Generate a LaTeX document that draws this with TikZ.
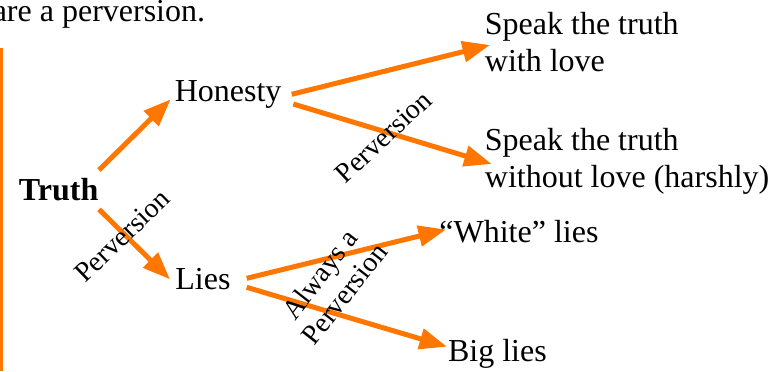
\documentclass[tikz,border=0pt]{standalone}
\usepackage{fontspec}
\setmainfont{Liberation Serif}
\usetikzlibrary{arrows.meta}
\definecolor{arrorange}{RGB}{255,118,0}
\tikzset{
  txt/.style={inner sep=0pt, anchor=base west, font=\fontsize{16}{18.5}\selectfont},
  lbl/.style={inner sep=0pt, font=\fontsize{14}{15.5}\selectfont},
  arr/.style={draw=arrorange, line width=2.5pt, -{Triangle[length=13.75pt,width=10.2pt]}}
}
\begin{document}
\begin{tikzpicture}[x=0.5pt,y=-0.5pt]
\useasboundingbox (0,0) rectangle (782,371);
\clip (0,0) rectangle (782,371);
% heading fragment
\node[txt, anchor=base east] (head) at (205.5,21.7) {are a perversion.};
% left rule
\draw[arrorange, line width=1.35pt] (1.3,48) -- (1.3,371);
% nodes
\node[txt, font=\fontsize{16}{18.5}\selectfont\bfseries] (truth) at (18.5,200.7) {Truth};
\node[txt] (honesty) at (174.4,101.7) {Honesty};
\node[txt] (lies) at (175,289.3) {Lies};
\node[txt] (love) at (484.5,34) {\begin{tabular}[t]{@{}l@{}}Speak the truth\\with love\end{tabular}};
\node[txt] (harsh) at (484.5,150.5) {\begin{tabular}[t]{@{}l@{}}Speak the truth\\without love (harshly)\end{tabular}};
\node[txt] (white) at (439,242.7) {``White'' lies};
\node[txt] (big) at (447.7,361.7) {Big lies};
% connectors
\draw[arr] ([shift={(80.5,-30.7)}]truth.base west) -- ([shift={(-3.7,-2.4)}]honesty.base west);
\draw[arr] ([shift={(80.5,8.6)}]truth.base west) -- ([shift={(-5,-10)}]lies.base west);
\draw[arr] ([shift={(117.3,-7.4)}]honesty.base west) -- ([shift={(5.5,11)}]love.base west);
\draw[arr] ([shift={(118.9,2.3)}]honesty.base west) -- ([shift={(7.2,13.5)}]harsh.base west);
\draw[arr] ([shift={(71.7,-11)}]lies.base west) -- ([shift={(7,-13.2)}]white.base west);
\draw[arr] ([shift={(71.7,-2)}]lies.base west) -- ([shift={(-0.7,-15)}]big.base west);
% labels
\node[lbl, rotate=44] (p1) at (122.3,235.7) {Perversion};
\node[lbl, rotate=43] (p2) at (383.3,136.7) {Perversion};
\node[lbl, rotate=52, align=center] (p3) at (332,284) {Always a\\Perversion};
\end{tikzpicture}
\end{document}
